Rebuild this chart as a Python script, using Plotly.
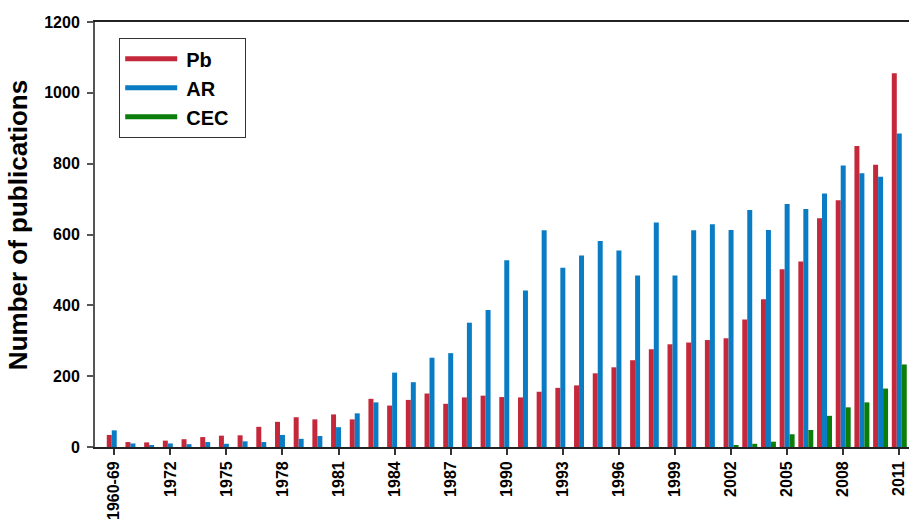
import plotly.graph_objects as go

categories = ["1960-69"] + [str(y) for y in range(1970, 2012)]

pb = [34, 14, 13, 18, 22, 28, 32, 33, 57, 71, 84, 78, 92, 78, 136, 117, 133, 151, 122, 140,
      145, 141, 140, 156, 167, 174, 208, 225, 245, 276, 290, 295, 302, 307, 360, 417, 502, 524,
      646, 697, 850, 797, 1055]
ar = [47, 10, 5, 10, 8, 14, 9, 16, 14, 34, 23, 31, 56, 95, 126, 210, 183, 252, 265, 351,
      387, 527, 442, 612, 506, 541, 582, 555, 484, 634, 484, 612, 629, 613, 669, 613, 686, 672,
      716, 795, 773, 763, 885]
cec = [0] * 33 + [4, 9, 15, 36, 48, 88, 112, 126, 165, 233]

tick_labels = categories[::3]

red = "#C4283A"
blue = "#0A7CC3"
green = "#0A7D0A"
font_family = "Liberation Sans, Arial, sans-serif"

fig = go.Figure()
for name, vals, col in [("Pb", pb, red), ("AR", ar, blue), ("CEC", cec, green)]:
    fig.add_trace(go.Bar(x=categories, y=vals, name=name, marker=dict(color=col, line_width=0),
                         showlegend=False))
for name, col in [("Pb", red), ("AR", blue), ("CEC", green)]:
    fig.add_trace(go.Scatter(x=[None], y=[None], mode="lines",
                             name="\u2009" + name + "\u00a0\u00a0",
                             line=dict(color=col, width=11)))

fig.update_layout(
    width=909, height=521,
    margin=dict(l=95, r=0, t=22, b=74),
    paper_bgcolor="white", plot_bgcolor="white",
    barmode="group", bargap=0.2, bargroupgap=0,
    font=dict(family=font_family, color="black"),
    legend=dict(x=0.0295, y=0.962, xanchor="left", yanchor="top",
                bordercolor="#333333", borderwidth=1.2, bgcolor="white",
                font=dict(size=20, family=font_family, color="black", weight="bold"),
                itemwidth=52, tracegroupgap=0, itemsizing="constant"),
    showlegend=True,
)
fig.add_annotation(
    text="Number of publications", xref="paper", yref="paper",
    x=-0.0946, y=0.522, xanchor="center", yanchor="middle", textangle=-90,
    showarrow=False,
    font=dict(size=26, family=font_family, color="black", weight="bold"),
)
fig.update_xaxes(
    type="category", range=[-1.03, 42.52],
    tickmode="array", tickvals=tick_labels, ticktext=tick_labels,
    tickangle=-90, ticks="outside", ticklen=6, tickwidth=1.5, tickcolor="#333333",
    showline=True, linecolor="#222222", linewidth=1.8, mirror=True,
    showgrid=False, zeroline=False,
    tickfont=dict(size=16, family=font_family, color="black", weight="bold"),
)
fig.update_yaxes(
    range=[0, 1200], tickvals=[0, 200, 400, 600, 800, 1000, 1200],
    ticks="outside", ticklen=6, tickwidth=1.5, tickcolor="#555555",
    showline=True, linecolor="#555555", linewidth=2,
    showgrid=False, zeroline=False, ticklabelstandoff=4,
    tickfont=dict(size=16, family=font_family, color="black", weight="bold"),
)
fig.write_html(
    "out.html",
    config={"displayModeBar": False},
    post_script="document.body.style.margin='0';document.body.style.overflow='hidden';",
)
